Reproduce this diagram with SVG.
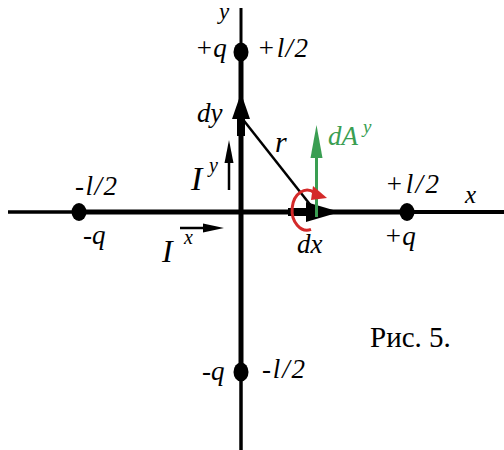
<svg xmlns="http://www.w3.org/2000/svg" width="504" height="450" viewBox="0 0 504 450">
<style>
text{font-family:"Liberation Serif","Times New Roman",serif;font-style:italic;font-size:27px;fill:#000}
.up{font-style:normal}
.g{fill:#3a9e52}
.ax{stroke:#000;fill:none}
</style>
<rect width="504" height="450" fill="#fff"/>
<g id="axes">
<line class="ax" x1="241" y1="8" x2="241" y2="52" stroke-width="3"/>
<line class="ax" x1="241" y1="52" x2="241" y2="372" stroke-width="5"/>
<line class="ax" x1="241" y1="372" x2="241" y2="450" stroke-width="3.5"/>
<line class="ax" x1="8" y1="212" x2="79" y2="212" stroke-width="3.5"/>
<line class="ax" x1="79" y1="212" x2="407" y2="212" stroke-width="5"/>
<line class="ax" x1="407" y1="212" x2="504" y2="212" stroke-width="4"/>
</g>
<g id="charges">
<ellipse cx="241" cy="52" rx="7.5" ry="9.5"/>
<ellipse cx="79" cy="212" rx="7.5" ry="9"/>
<ellipse cx="407" cy="212" rx="7.5" ry="9"/>
<ellipse cx="241" cy="372" rx="7.5" ry="9.5"/>
</g>
<g id="connectors">
<rect x="237" y="112" width="8" height="24"/>
<polygon points="241,93 232,119 250,119"/>
<line x1="241" y1="117" x2="312" y2="207" stroke="#000" stroke-width="2.5"/>
<rect x="288" y="208" width="24" height="8"/>
<polygon points="306,202 340,212 306,222"/>
<line x1="316.5" y1="217" x2="316.5" y2="150" stroke="#3a9e52" stroke-width="3"/>
<polygon points="316.5,125 310.5,158 322.5,158" fill="#3a9e52"/>
<path d="M311,229.4 A15,20 0 1 1 314.5,192.7" fill="none" stroke="#d42a2a" stroke-width="3"/>
<polygon points="327,198 313,186 311,200" fill="#d42a2a"/>
<line x1="229" y1="190" x2="229" y2="158" stroke="#000" stroke-width="2.5"/>
<polygon points="229,140 224.5,163 233.5,163"/>
<line x1="180" y1="228" x2="208" y2="228" stroke="#000" stroke-width="2.5"/>
<polygon points="224,228 203,223.5 203,232.5"/>
</g>
<g id="labels">
<text x="219" y="19" style="font-size:23px">y</text>
<text x="195" y="57">+q</text>
<text x="257" y="57" textLength="51">+l/2</text>
<text x="197" y="122">dy</text>
<text x="275" y="152" style="font-size:30px">r</text>
<text class="g" x="328" y="145">dA</text>
<text class="g" x="363" y="133" style="font-size:19px">y</text>
<text x="191" y="190" style="font-size:34px">I</text>
<text x="209" y="172" style="font-size:20px">y</text>
<text x="162" y="262" style="font-size:32px">I</text>
<text x="184" y="244" style="font-size:20px">x</text>
<text x="75" y="195" textLength="42">-l/2</text>
<text x="83" y="244">-q</text>
<text x="385" y="193" textLength="54">+l/2</text>
<text x="465" y="203" style="font-size:25px">x</text>
<text x="384" y="245">+q</text>
<text x="297" y="253">dx</text>
<text x="202" y="380">-q</text>
<text x="262" y="378" textLength="43">-l/2</text>
<text class="up" x="370" y="347" style="font-size:29px">Рис. 5.</text>
</g>
</svg>
